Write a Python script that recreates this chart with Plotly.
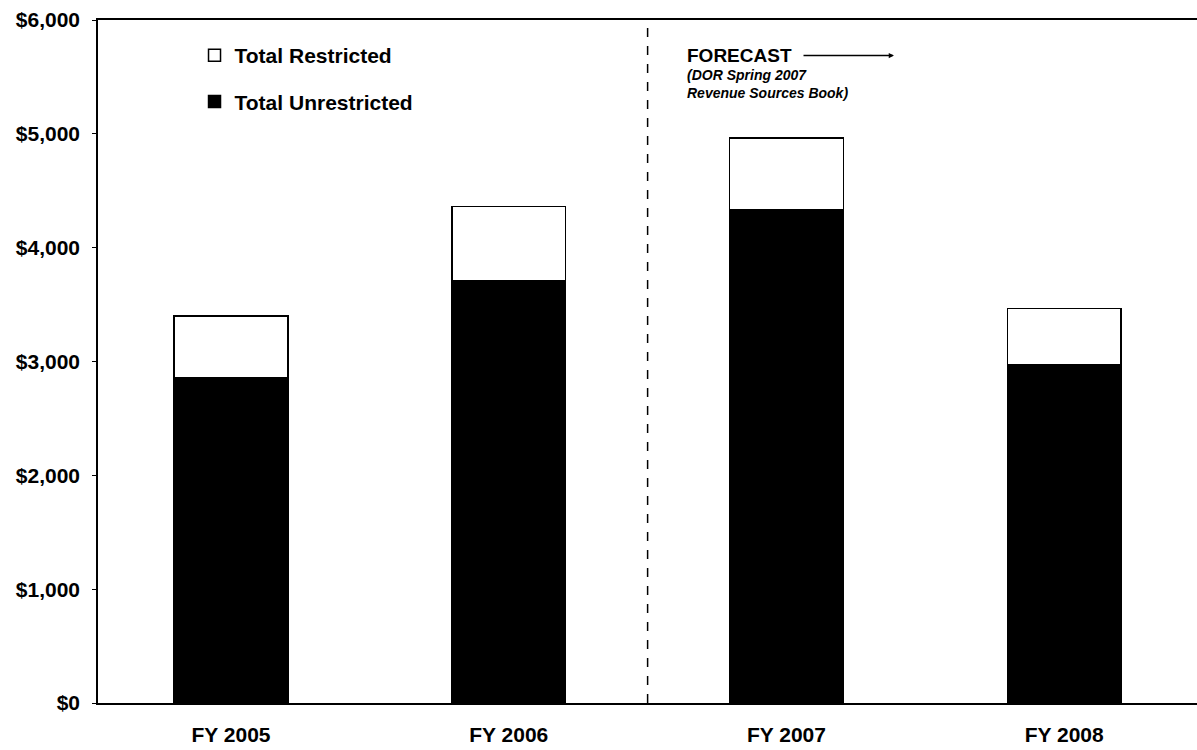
import plotly.graph_objects as go

years = ["FY 2005", "FY 2006", "FY 2007", "FY 2008"]
unrestricted = [2860, 3710, 4330, 2970]
total = [3400, 4360, 4965, 3465]
restricted = [t - u for t, u in zip(total, unrestricted)]
y_ticks = [0, 1000, 2000, 3000, 4000, 5000, 6000]
y_tick_labels = ["$0", "$1,000", "$2,000", "$3,000", "$4,000", "$5,000", "$6,000"]

FONT = "Liberation Sans, Arial, sans-serif"

fig = go.Figure()
fig.add_trace(go.Bar(
    x=years, y=unrestricted, name="<b>Total Unrestricted</b>",
    marker=dict(color="black", line=dict(color="black", width=1.5)),
    width=0.41, legendgroup="u", legendrank=2,
))
fig.add_trace(go.Bar(
    x=years, y=restricted, name="<b>Total Restricted</b>",
    marker=dict(color="white", line=dict(color="black", width=1.5)),
    width=0.41, legendgroup="r", legendrank=1,
))

# forecast divider
fig.add_shape(type="line", xref="x", yref="paper", x0=1.5, x1=1.5, y0=0, y1=1,
              line=dict(color="black", width=1.5, dash="dash"))

# plot area spans 98..1210 px (1112 px); fractions below are of that width
fig.add_annotation(xref="paper", yref="paper", x=0.5279, y=0.948, xanchor="left", yanchor="middle",
                   text="<b>FORECAST</b>", showarrow=False,
                   font=dict(family=FONT, size=19, color="black"))
fig.add_annotation(xref="x domain", yref="y domain", x=0.7158, y=0.948, ax=0.6331, ay=0.948,
                   axref="x domain", ayref="y domain", text="", showarrow=True,
                   arrowhead=2, arrowsize=0.7, arrowwidth=1.5, arrowcolor="black")
fig.add_annotation(xref="paper", yref="paper", x=0.5279, y=0.907, xanchor="left", yanchor="middle",
                   text="<b><i>(DOR Spring 2007<br>Revenue Sources Book)</i></b>", showarrow=False,
                   align="left", font=dict(family=FONT, size=14, color="black"))

fig.update_layout(
    barmode="stack",
    width=1210, height=750,
    margin=dict(l=98, r=0, t=20, b=47),
    plot_bgcolor="white", paper_bgcolor="white",
    font=dict(family=FONT, color="black"),
    showlegend=True,
    legend=dict(x=0.0868, y=0.978, xanchor="left", yanchor="top",
                traceorder="grouped", tracegroupgap=16,
                font=dict(family=FONT, size=21, color="black"),
                bgcolor="rgba(0,0,0,0)"),
    xaxis=dict(
        type="category", range=[-0.479, 3.525],
        showline=True, linecolor="black", linewidth=1.5, mirror=True,
        ticks="", showgrid=False,
        tickfont=dict(family=FONT, size=21, color="black"),
        ticklabelstandoff=12,
        tickvals=years, ticktext=["<b>%s</b>" % y for y in years],
    ),
    yaxis=dict(
        range=[0, 6000], tickvals=y_ticks,
        ticktext=["<b>%s</b>" % t for t in y_tick_labels],
        showline=True, linecolor="black", linewidth=1.5,
        ticks="outside", ticklen=4, tickcolor="black",
        ticklabelstandoff=8,
        showgrid=False, zeroline=False,
        tickfont=dict(family=FONT, size=21, color="black"),
    ),
)

fig.write_html("out.html", config={"displayModeBar": False},
               post_script="document.body.style.margin='0';document.body.style.overflow='hidden';"
                           "document.documentElement.style.overflow='hidden';")
